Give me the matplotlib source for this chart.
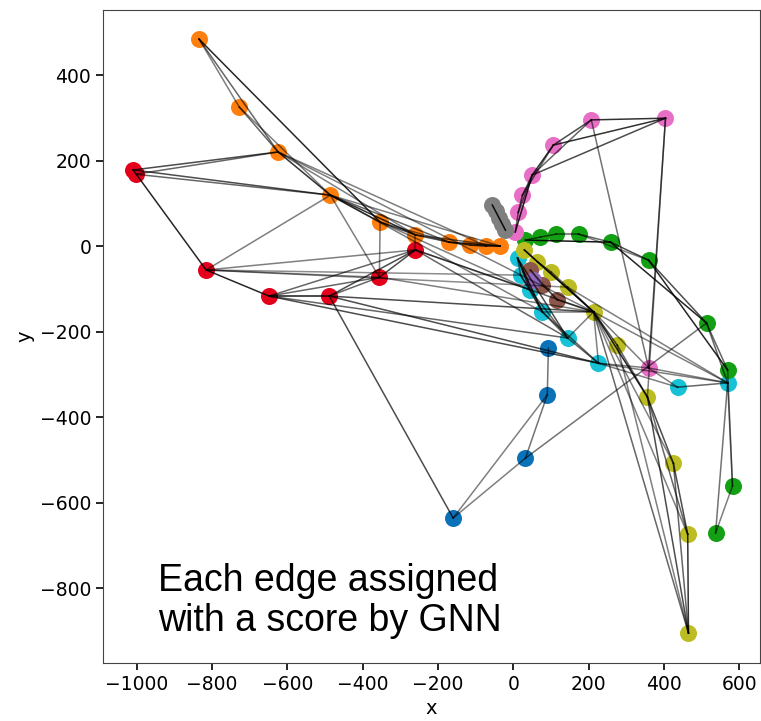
import matplotlib.pyplot as plt

# node positions per cluster
orange_x = [-835, -728, -625, -486, -354, -260, -170, -114, -72, -35]
orange_y = [484, 325, 220, 119, 56, 26, 9, 2, 0, 0]
red_x = [-1010, -1003, -816, -649, -489, -356, -260]
red_y = [178, 168, -56, -117, -117, -73, -9]
blue_x = [-160, 32, 90, 93]
blue_y = [-636, -496, -348, -239]
cyan_x = [11, 19, 45, 77, 144, 226, 436, 569]
cyan_y = [-28, -68, -103, -154, -215, -274, -330, -320]
green_x = [32, 72, 114, 173, 258, 359, 513, 569, 582, 537]
green_y = [14, 21, 28, 28, 9, -33, -180, -290, -561, -671]
olive_x = [29, 64, 101, 144, 213, 276, 356, 425, 463, 465]
olive_y = [-9, -37, -61, -96, -154, -232, -353, -508, -674, -905]
brown_x = [45, 77, 117]
brown_y = [-56, -91, -126]
purple_x = [53]
purple_y = [-80]
pink_x = [5, 13, 24, 50, 106, 207, 404, 359]
pink_y = [33, 79, 119, 166, 236, 295, 299, -285]
gray_x = [-56, -47, -38, -30, -21]
gray_y = [96, 81, 66, 52, 37]

clusters = [
    ("O", orange_x, orange_y, "#ff7f0e"),
    ("R", red_x, red_y, "#e4001b"),
    ("B", blue_x, blue_y, "#0a72b8"),
    ("C", cyan_x, cyan_y, "#17c2d6"),
    ("G", green_x, green_y, "#14a014"),
    ("Y", olive_x, olive_y, "#bcbd22"),
    ("N", brown_x, brown_y, "#8c564b"),
    ("P", purple_x, purple_y, "#9467bd"),
    ("K", pink_x, pink_y, "#e86fc6"),
    ("A", gray_x, gray_y, "#7f7f7f"),
]

# edges (node a, node b, GNN score)
edges = [
    ("O0", "O1", .5), ("O0", "O2", .6), ("O0", "O4", .85), ("O1", "O2", .6),
    ("O1", "O3", .5), ("O2", "O3", .8), ("O2", "O5", .5), ("O3", "O4", .7),
    ("O3", "O5", .8), ("O3", "O6", .6), ("O4", "O5", .7), ("O4", "O6", .5),
    ("O5", "O6", .7), ("O5", "O9", .6), ("O6", "O7", .7), ("O6", "O9", .85),
    ("O7", "O8", .8), ("O8", "O9", .8), ("O2", "O8", .5), ("O3", "O9", .5),
    ("R0", "R2", .85), ("R0", "O2", .7), ("R0", "O3", .7), ("R1", "O2", .6),
    ("R1", "O3", .6), ("R2", "R3", .85), ("R2", "O3", .5), ("R2", "R6", .5),
    ("R2", "R5", .45), ("R2", "C1", .45), ("R3", "R4", .9), ("R3", "R5", .6),
    ("R3", "R6", .6), ("R4", "R5", .6), ("R4", "R6", .7), ("R5", "R6", .7),
    ("R5", "O4", .5), ("R5", "O3", .5), ("R6", "O5", .5), ("R4", "B0", .7),
    ("R4", "Y4", .7), ("R4", "C5", .7), ("R3", "C5", .7), ("R3", "C4", .6),
    ("R6", "C2", .5), ("R6", "C4", .6), ("R5", "Y4", .5), ("R6", "Y4", .6),
    ("O3", "C3", .5), ("O4", "C2", .5), ("O2", "Y4", .5), ("R2", "Y3", .45),
    ("K0", "K1", .6), ("K1", "K2", .7), ("K2", "K3", .7), ("K0", "K3", .85),
    ("K1", "K3", .6), ("K3", "K4", .8), ("K2", "K4", .6), ("K4", "K5", .7),
    ("K3", "K5", .6), ("K5", "K6", .8), ("K4", "K6", .8), ("K3", "K6", .7),
    ("K5", "K7", .55), ("K6", "K7", .6), ("K6", "Y6", .5), ("K7", "C7", .5),
    ("K7", "Y4", .5), ("K7", "C5", .5), ("K7", "C6", .5), ("B1", "G6", .55),
    ("G0", "G1", .6), ("G1", "G2", .6), ("G2", "G3", .6), ("G3", "G4", .6),
    ("G0", "G4", .9), ("G4", "G5", .7), ("G3", "G5", .5), ("G4", "G6", .85),
    ("G5", "G6", .7), ("G5", "G7", .85), ("G6", "G7", .6), ("G6", "C7", .6),
    ("G7", "G8", .5), ("C7", "G8", .5), ("C7", "G9", .55), ("G8", "G9", .5),
    ("C0", "C1", .6), ("C1", "C2", .6), ("C2", "C3", .6), ("C0", "C2", .8),
    ("C0", "C3", .85), ("C0", "C4", .7), ("C1", "C3", .6), ("C3", "C4", .6),
    ("C4", "C5", .6), ("C3", "C5", .6), ("C4", "Y4", .5), ("C5", "Y4", .5),
    ("C5", "C6", .5), ("C6", "C7", .6), ("C5", "C7", .5), ("C2", "C4", .6),
    ("Y0", "Y1", .6), ("Y1", "Y2", .6), ("Y2", "Y3", .6), ("Y3", "Y4", .6),
    ("Y0", "Y4", .9), ("Y1", "Y4", .6), ("Y4", "Y5", .7), ("Y4", "Y6", .85),
    ("Y5", "Y6", .6), ("Y6", "Y7", .7), ("Y4", "Y7", .5), ("Y6", "Y8", .6),
    ("Y7", "Y8", .7), ("Y8", "Y9", .8), ("Y7", "Y9", .6), ("Y6", "Y9", .7),
    ("Y5", "Y9", .5), ("Y4", "Y9", .6), ("Y4", "Y8", .5), ("Y4", "C3", .5),
    ("Y3", "C7", .5), ("Y4", "C7", .5),
    ("N0", "N1", .5), ("N1", "N2", .5), ("N2", "Y4", .6), ("N0", "N2", .5),
    ("B0", "B1", .5), ("B0", "B2", .5), ("B1", "B2", .55), ("B2", "B3", .55),
    ("A0", "A4", .9),
]

pos = {}
fig = plt.figure(figsize=(7.61, 7.21), dpi=100)
ax = fig.add_axes([103 / 761, 58 / 721, 657 / 761, 653 / 721])

for key, xs, ys, col in clusters:
    ax.scatter(xs, ys, s=150, color=col, linewidths=0, zorder=2)
    for i, (x, y) in enumerate(zip(xs, ys)):
        pos[f"{key}{i}"] = (x, y)

for a, b, w in edges:
    (x1, y1), (x2, y2) = pos[a], pos[b]
    ax.plot([x1, x2], [y1, y2], color="black", alpha=w, lw=1.1, zorder=3)

ax.set_xlim(-1090, 655)
ax.set_ylim(-975, 552)
ax.set_xticks(range(-1000, 601, 200))
ax.set_yticks(range(-800, 401, 200))
ax.tick_params(labelsize=13.5, length=5, width=1.2)
ax.set_xlabel("x", fontsize=14)
ax.set_ylabel("y", fontsize=14)
for sp in ax.spines.values():
    sp.set_color("#444444")

fig.text(158 / 761, 1 - 563 / 721, "Each edge assigned\nwith a score by GNN",
         fontsize=27, family="Liberation Sans", va="top", ha="left",
         linespacing=1.15)

fig.savefig("out.png", dpi=100)
